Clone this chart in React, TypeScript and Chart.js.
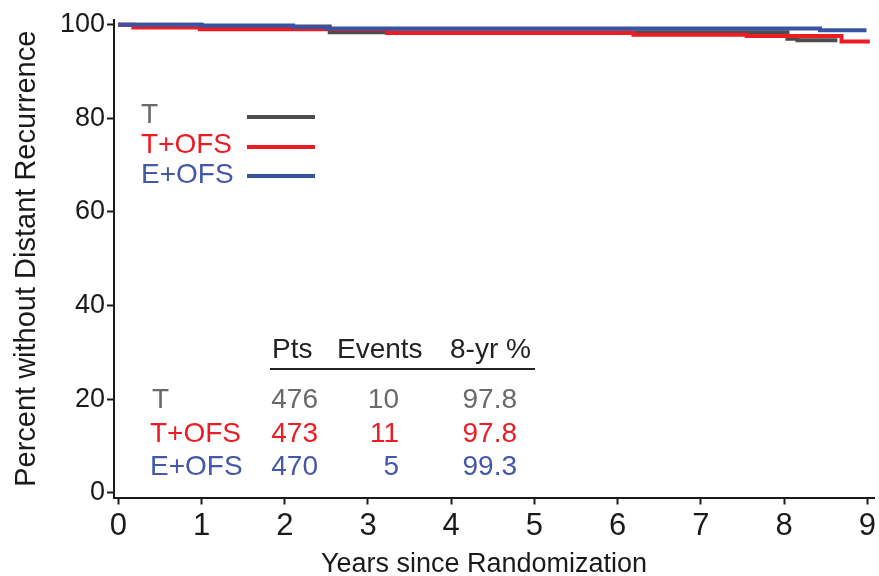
import React, { useEffect, useRef } from "react";
import { Chart, registerables } from "chart.js";

Chart.register(...registerables);

// ---- data ----
const seriesNames = ["T", "T+OFS", "E+OFS"];
const seriesColors = ["#4d4d4d", "#ec1c24", "#3953a4"];
const textColors = ["#6a6a6a", "#ec1c24", "#4457a8"];

// Kaplan-Meier step points (years, percent)
const tTimes = [0, 1.0, 2.54, 8.04, 8.16, 8.64];
const tSurv = [100, 99.6, 98.4, 97.0, 96.65, 96.65];
const tofsTimes = [0, 0.18, 0.98, 3.23, 6.19, 7.55, 8.69, 9.03];
const tofsSurv = [100, 99.4, 99.0, 98.2, 97.86, 97.56, 96.43, 96.43];
const eofsTimes = [0, 1.0, 2.1, 2.5, 8.43, 8.99];
const eofsSurv = [100, 99.85, 99.5, 99.2, 98.8, 98.8];

const xTicks = [0, 1, 2, 3, 4, 5, 6, 7, 8, 9];
const yTicks = [0, 20, 40, 60, 80, 100];

const tableHeader = ["Pts", "Events", "8-yr %"];
const tablePts = ["476", "473", "470"];
const tableEvents = ["10", "11", "5"];
const tableRate = ["97.8", "97.8", "99.3"];

const xTitle = "Years since Randomization";
const yTitle = "Percent without Distant Recurrence";

const FONT = '"Liberation Sans", Arial, Helvetica, sans-serif';
const AXIS = "#1a1a1a";

const toPts = (ts: number[], ss: number[]) => ts.map((t, i) => ({ x: t, y: ss[i] }));

const annotations = {
  id: "annotations",
  afterDraw(chart: any) {
    const ctx = chart.ctx as CanvasRenderingContext2D;
    ctx.save();
    ctx.textBaseline = "alphabetic";
    // x title
    ctx.font = `27px ${FONT}`;
    ctx.fillStyle = AXIS;
    ctx.textAlign = "center";
    ctx.fillText(xTitle, 484, 572);

    // legend
    const legBase = [123, 153, 183];
    const legLineY = [117, 147, 176];
    ctx.font = `28px ${FONT}`;
    ctx.textAlign = "left";
    seriesNames.forEach((n, i) => {
      ctx.fillStyle = textColors[i];
      ctx.fillText(n, 141, legBase[i]);
      ctx.strokeStyle = seriesColors[i];
      ctx.lineWidth = 4;
      ctx.beginPath();
      ctx.moveTo(247, legLineY[i]);
      ctx.lineTo(315, legLineY[i]);
      ctx.stroke();
    });

    // table header
    ctx.fillStyle = "#222";
    const hx = [272, 337, 450];
    tableHeader.forEach((h, i) => ctx.fillText(h, hx[i], 358));
    ctx.strokeStyle = "#222";
    ctx.lineWidth = 2;
    ctx.beginPath();
    ctx.moveTo(270, 369);
    ctx.lineTo(535, 369);
    ctx.stroke();

    const rowBase = [408, 442, 475];
    seriesNames.forEach((n, i) => {
      ctx.fillStyle = textColors[i];
      ctx.textAlign = "left";
      ctx.fillText(n, i === 0 ? 152 : 150, rowBase[i]);
      ctx.textAlign = "right";
      ctx.fillText(tablePts[i], 318, rowBase[i]);
      ctx.fillText(tableEvents[i], 399, rowBase[i]);
      ctx.fillText(tableRate[i], 517, rowBase[i]);
    });
    ctx.restore();
  },
};

export default function App() {
  const ref = useRef<HTMLCanvasElement>(null);
  useEffect(() => {
    if (!ref.current) return;
    Chart.defaults.font.family = FONT;
    const data = [toPts(tTimes, tSurv), toPts(tofsTimes, tofsSurv), toPts(eofsTimes, eofsSurv)];
    const chart = new Chart(ref.current, {
      type: "line",
      data: {
        datasets: seriesNames.map((n, i) => ({
          label: n,
          data: data[i],
          borderColor: seriesColors[i],
          backgroundColor: seriesColors[i],
          borderWidth: 4,
          stepped: "before" as const,
          pointRadius: 0,
          fill: false,
          order: 2 - i,
        })),
      },
      options: {
        animation: false,
        responsive: false,
        devicePixelRatio: 1,
        layout: { padding: { top: 20, right: 4, bottom: 0, left: 0 } },
        plugins: { legend: { display: false }, tooltip: { enabled: false } },
        scales: {
          x: {
            type: "linear",
            min: -0.052,
            max: 9.09,
            afterBuildTicks: (s: any) => {
              s.ticks = xTicks.map((v) => ({ value: v }));
            },
            afterFit: (s: any) => {
              s.height = 78.5;
            },
            ticks: {
              font: { size: 31 },
              color: AXIS,
              padding: 3,
              maxRotation: 0,
              autoSkip: false,
            },
            grid: {
              drawOnChartArea: false,
              drawTicks: true,
              tickLength: 7,
              tickWidth: 2,
              tickColor: AXIS,
            },
            border: { display: true, color: AXIS, width: 2 },
            title: { display: false },
          },
          y: {
            type: "linear",
            min: -1.0,
            max: 101,
            afterBuildTicks: (s: any) => {
              s.ticks = yTicks.map((v) => ({ value: v }));
            },
            afterFit: (s: any) => {
              s.width = 114;
            },
            ticks: { font: { size: 27 }, color: AXIS, padding: 2 },
            grid: {
              drawOnChartArea: false,
              drawTicks: true,
              tickLength: 7,
              tickWidth: 2,
              tickColor: AXIS,
            },
            border: { display: true, color: AXIS, width: 2 },
            title: {
              display: true,
              text: yTitle,
              font: { size: 29 },
              color: AXIS,
              padding: { top: 10, bottom: 0 },
            },
          },
        },
      },
      plugins: [annotations],
    });
    return () => chart.destroy();
  }, []);
  return (
    <div style={{ position: "fixed", left: 0, top: 0, width: 879, height: 576, background: "#fff" }}>
      <canvas ref={ref} width={879} height={576} style={{ display: "block" }} />
    </div>
  );
}
